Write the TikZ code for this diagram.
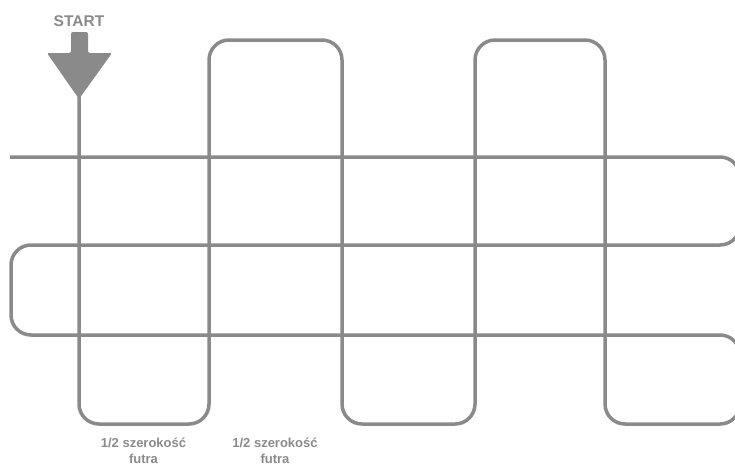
\documentclass[tikz,border=0pt]{standalone}
\usepackage{fontspec}
\setmainfont{Liberation Sans}
\definecolor{lg}{HTML}{8A8A8A}
\begin{document}
\begin{tikzpicture}[x=1pt,y=-1pt,
  serp/.style={draw=lg,line width=3.5pt,rounded corners=20pt},
  lbl/.style={text=lg,font=\bfseries\fontsize{13}{15.5}\selectfont,align=center,inner sep=0pt},
  ttl/.style={text=lg,font=\bfseries\fontsize{15.5}{18}\selectfont,inner sep=0pt}]
\useasboundingbox (0,0) rectangle (735,469);
\clip (0,0) rectangle (735,469);
% horizontal serpentine
\path[serp] (10,157) -- (740,157) -- (740,245) -- (11,245) -- (11,335) -- (740,335) -- (740,390);
% vertical serpentine
\coordinate (tip) at (79,97);
\path[serp] (tip) -- (79,424) -- (209,424) -- (209,40) -- (342,40) -- (342,424) -- (475,424) -- (475,40) -- (605,40) -- (605,424) -- (740,424) -- (740,380);
% start arrow
\fill[lg,rounded corners=2pt] (71,32) -- (88,32) -- (88,53) -- (112,53) -- (79,99) -- (47,53) -- (71,53) -- cycle;
\node[ttl] (start) at (79,21.5) {START};
\node[lbl] (l1) at (143.5,451) {1/2 szerokość\\futra};
\node[lbl] (l2) at (275,451) {1/2 szerokość\\futra};
\end{tikzpicture}
\end{document}
